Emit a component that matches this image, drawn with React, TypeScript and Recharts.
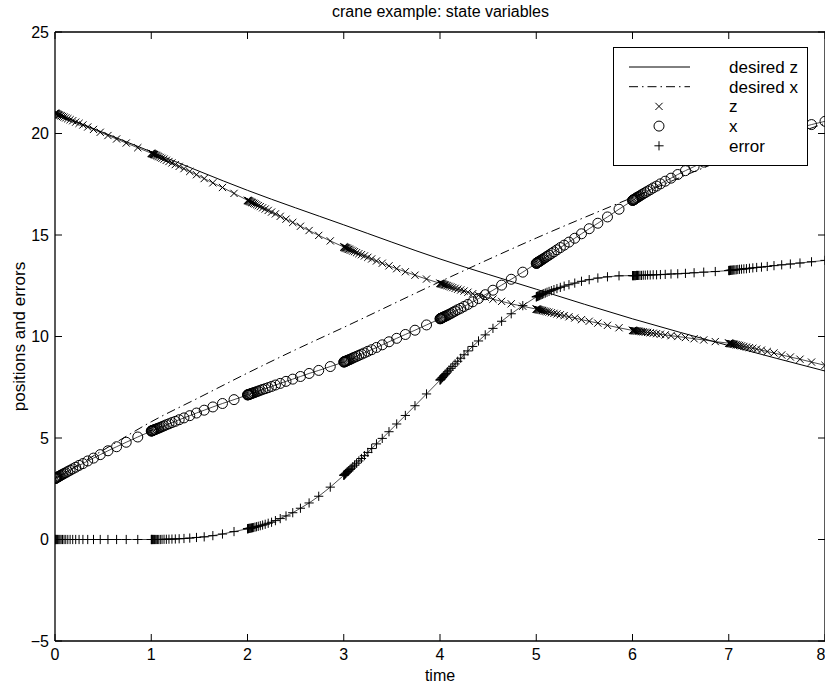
import React from "react";
import { LineChart, Line, XAxis, YAxis, Label, Legend } from "recharts";

// solver output times: the steps crowd together right after each whole second
const TIME = [
  0, 0.003, 0.007, 0.012, 0.018, 0.025, 0.033, 0.042, 0.052, 0.064, 0.078, 0.094, 0.112, 0.133, 0.157, 0.184, 0.215, 0.25, 0.29, 0.34, 0.4, 0.47, 0.55, 0.64, 0.74, 0.86,
  1, 1.003, 1.007, 1.012, 1.018, 1.025, 1.033, 1.042, 1.052, 1.064, 1.078, 1.094, 1.112, 1.133, 1.157, 1.184, 1.215, 1.25, 1.29, 1.34, 1.4, 1.47, 1.55, 1.64, 1.74, 1.86,
  2, 2.003, 2.007, 2.012, 2.018, 2.025, 2.033, 2.042, 2.052, 2.064, 2.078, 2.094, 2.112, 2.133, 2.157, 2.184, 2.215, 2.25, 2.29, 2.34, 2.4, 2.47, 2.55, 2.64, 2.74, 2.86,
  3, 3.003, 3.007, 3.012, 3.018, 3.025, 3.033, 3.042, 3.052, 3.064, 3.078, 3.094, 3.112, 3.133, 3.157, 3.184, 3.215, 3.25, 3.29, 3.34, 3.4, 3.47, 3.55, 3.64, 3.74, 3.86,
  4, 4.003, 4.007, 4.012, 4.018, 4.025, 4.033, 4.042, 4.052, 4.064, 4.078, 4.094, 4.112, 4.133, 4.157, 4.184, 4.215, 4.25, 4.29, 4.34, 4.4, 4.47, 4.55, 4.64, 4.74, 4.86,
  5, 5.003, 5.007, 5.012, 5.018, 5.025, 5.033, 5.042, 5.052, 5.064, 5.078, 5.094, 5.112, 5.133, 5.157, 5.184, 5.215, 5.25, 5.29, 5.34, 5.4, 5.47, 5.55, 5.64, 5.74, 5.86,
  6, 6.003, 6.007, 6.012, 6.018, 6.025, 6.033, 6.042, 6.052, 6.064, 6.078, 6.094, 6.112, 6.133, 6.157, 6.184, 6.215, 6.25, 6.29, 6.34, 6.4, 6.47, 6.55, 6.64, 6.74, 6.86,
  7, 7.003, 7.007, 7.012, 7.018, 7.025, 7.033, 7.042, 7.052, 7.064, 7.078, 7.094, 7.112, 7.133, 7.157, 7.184, 7.215, 7.25, 7.29, 7.34, 7.4, 7.47, 7.55, 7.64, 7.74, 7.86,
  8,
];

const Z_POS = [
  21.0, 20.99, 20.99, 20.98, 20.96, 20.95, 20.93, 20.91, 20.89, 20.87, 20.84, 20.81, 20.77, 20.73, 20.68, 20.63, 20.56, 20.5, 20.42, 20.32, 20.2, 20.06, 19.9, 19.73, 19.53, 19.3,
  19.03, 19.02, 19.01, 19.0, 18.99, 18.97, 18.96, 18.94, 18.92, 18.89, 18.86, 18.82, 18.78, 18.74, 18.68, 18.62, 18.55, 18.47, 18.38, 18.27, 18.13, 17.97, 17.78, 17.57, 17.34, 17.05,
  16.71, 16.7, 16.69, 16.68, 16.67, 16.65, 16.63, 16.61, 16.59, 16.56, 16.53, 16.49, 16.45, 16.4, 16.34, 16.28, 16.21, 16.13, 16.04, 15.92, 15.78, 15.62, 15.43, 15.22, 14.98, 14.71,
  14.41, 14.4, 14.4, 14.38, 14.37, 14.36, 14.34, 14.32, 14.3, 14.28, 14.25, 14.21, 14.18, 14.13, 14.08, 14.03, 13.97, 13.9, 13.82, 13.72, 13.61, 13.48, 13.34, 13.19, 13.02, 12.83,
  12.62, 12.62, 12.61, 12.6, 12.59, 12.58, 12.57, 12.55, 12.54, 12.52, 12.5, 12.47, 12.44, 12.41, 12.37, 12.33, 12.29, 12.24, 12.18, 12.11, 12.03, 11.94, 11.84, 11.73, 11.61, 11.49,
  11.35, 11.35, 11.34, 11.34, 11.33, 11.32, 11.31, 11.3, 11.29, 11.28, 11.26, 11.24, 11.22, 11.2, 11.17, 11.14, 11.11, 11.07, 11.03, 10.97, 10.91, 10.83, 10.75, 10.66, 10.55, 10.43,
  10.3, 10.3, 10.3, 10.29, 10.29, 10.28, 10.28, 10.27, 10.27, 10.26, 10.25, 10.24, 10.23, 10.21, 10.2, 10.18, 10.16, 10.14, 10.11, 10.08, 10.04, 10.0, 9.95, 9.89, 9.83, 9.75,
  9.67, 9.67, 9.66, 9.66, 9.65, 9.65, 9.64, 9.63, 9.62, 9.61, 9.59, 9.58, 9.56, 9.54, 9.51, 9.48, 9.45, 9.42, 9.38, 9.33, 9.26, 9.19, 9.09, 8.99, 8.88, 8.74,
  8.58,
];

const X_POS = [
  3.0, 3.01, 3.02, 3.03, 3.05, 3.07, 3.09, 3.11, 3.14, 3.17, 3.21, 3.25, 3.29, 3.35, 3.41, 3.48, 3.56, 3.65, 3.74, 3.87, 4.01, 4.18, 4.37, 4.57, 4.79, 5.05,
  5.34, 5.35, 5.35, 5.36, 5.38, 5.39, 5.41, 5.42, 5.44, 5.47, 5.49, 5.52, 5.56, 5.6, 5.65, 5.7, 5.76, 5.82, 5.9, 5.99, 6.1, 6.23, 6.37, 6.53, 6.7, 6.89,
  7.12, 7.13, 7.13, 7.14, 7.15, 7.16, 7.18, 7.19, 7.21, 7.23, 7.25, 7.28, 7.31, 7.35, 7.39, 7.43, 7.48, 7.54, 7.61, 7.69, 7.79, 7.9, 8.03, 8.18, 8.33, 8.52,
  8.74, 8.75, 8.75, 8.77, 8.78, 8.79, 8.81, 8.83, 8.85, 8.87, 8.9, 8.94, 8.98, 9.02, 9.07, 9.13, 9.19, 9.27, 9.35, 9.46, 9.59, 9.74, 9.91, 10.1, 10.31, 10.57,
  10.87, 10.88, 10.89, 10.9, 10.91, 10.93, 10.95, 10.97, 10.99, 11.02, 11.05, 11.09, 11.13, 11.19, 11.25, 11.32, 11.39, 11.48, 11.58, 11.71, 11.87, 12.06, 12.28, 12.53, 12.82, 13.17,
  13.6, 13.61, 13.62, 13.64, 13.66, 13.68, 13.7, 13.73, 13.76, 13.8, 13.84, 13.89, 13.95, 14.01, 14.09, 14.17, 14.27, 14.38, 14.5, 14.65, 14.84, 15.06, 15.31, 15.58, 15.89, 16.27,
  16.7, 16.71, 16.72, 16.74, 16.75, 16.77, 16.8, 16.83, 16.86, 16.89, 16.93, 16.98, 17.03, 17.09, 17.16, 17.23, 17.32, 17.41, 17.52, 17.65, 17.8, 17.98, 18.17, 18.37, 18.59, 18.84,
  19.1, 19.11, 19.11, 19.12, 19.13, 19.15, 19.16, 19.18, 19.2, 19.22, 19.25, 19.28, 19.31, 19.35, 19.39, 19.44, 19.49, 19.55, 19.62, 19.7, 19.8, 19.91, 20.02, 20.15, 20.29, 20.44,
  20.6,
];

const ERROR = [
  0, 0, 0, 0, 0, 0, 0, 0, 0, 0, 0, 0, 0, 0, 0, 0, 0, 0, 0, 0, 0, 0, 0, 0, 0, 0,
  0, 0, 0, 0, 0, 0, 0, 0, 0, 0, 0, 0, 0.005, 0.01, 0.01, 0.015, 0.02, 0.025, 0.035, 0.05, 0.07, 0.1, 0.13, 0.19, 0.27, 0.39,
  0.53, 0.53, 0.54, 0.54, 0.55, 0.55, 0.56, 0.57, 0.58, 0.59, 0.61, 0.63, 0.65, 0.68, 0.71, 0.75, 0.8, 0.85, 0.93, 1.03, 1.16, 1.32, 1.54, 1.8, 2.13, 2.58,
  3.16, 3.17, 3.19, 3.21, 3.24, 3.27, 3.31, 3.35, 3.39, 3.45, 3.51, 3.58, 3.66, 3.76, 3.87, 3.99, 4.13, 4.29, 4.48, 4.71, 4.98, 5.31, 5.69, 6.11, 6.59, 7.17,
  7.85, 7.87, 7.89, 7.91, 7.95, 7.98, 8.02, 8.07, 8.12, 8.18, 8.26, 8.34, 8.43, 8.53, 8.65, 8.78, 8.93, 9.1, 9.29, 9.51, 9.78, 10.08, 10.4, 10.75, 11.12, 11.52,
  11.95, 11.96, 11.97, 11.98, 11.99, 12.0, 12.02, 12.04, 12.06, 12.08, 12.11, 12.14, 12.18, 12.22, 12.26, 12.31, 12.36, 12.42, 12.48, 12.55, 12.63, 12.72, 12.8, 12.88, 12.94, 12.99,
  13.0, 13.0, 13.0, 13.0, 13.0, 13.0, 13.0, 13.01, 13.01, 13.01, 13.01, 13.01, 13.02, 13.02, 13.03, 13.03, 13.04, 13.04, 13.05, 13.06, 13.08, 13.09, 13.11, 13.14, 13.17, 13.2,
  13.25, 13.25, 13.25, 13.26, 13.26, 13.26, 13.27, 13.27, 13.28, 13.28, 13.29, 13.3, 13.31, 13.32, 13.33, 13.34, 13.36, 13.38, 13.4, 13.42, 13.45, 13.49, 13.53, 13.57, 13.62, 13.68,
  13.75,
];

const DESIRED_Z_TIME = [0, 1, 2, 3, 4, 5, 6, 7, 8];
const DESIRED_Z = [21.0, 19.1, 17.2, 15.5, 13.82, 12.33, 10.87, 9.55, 8.3];

const DESIRED_X_TIME = [0, 0.5, 1, 1.5, 2, 2.5, 3, 4, 5, 6, 7, 8];
const DESIRED_X = [3.0, 4.4, 5.8, 7.0, 8.2, 9.35, 10.45, 12.7, 14.85, 16.85, 18.8, 20.5];

const X_TICKS = [0, 1, 2, 3, 4, 5, 6, 7, 8];
const Y_TICKS = [-5, 0, 5, 10, 15, 20, 25];

const LEGEND_ROWS = [
  { label: "desired z", kind: "solid" },
  { label: "desired x", kind: "dashdot" },
  { label: "z", kind: "cross" },
  { label: "x", kind: "circle" },
  { label: "error", kind: "plus" },
];

const FONT = "'Liberation Sans', Arial, Helvetica, sans-serif";
const DASHDOT = "9 4 1.5 4";
const AXIS_LINE = { stroke: "#000", strokeWidth: 1.3 };

const measured = TIME.map((t, i) => ({ t, z: Z_POS[i], x: X_POS[i], err: ERROR[i] }));
const desiredZ = DESIRED_Z_TIME.map((t, i) => ({ t, v: DESIRED_Z[i] }));
const desiredX = DESIRED_X_TIME.map((t, i) => ({ t, v: DESIRED_X[i] }));

const minus = (v: number) => String(v).replace("-", "\u2212");
const noLabel = () => <g />;

function glyph(kind: string, cx: number, cy: number, key?: React.Key) {
  if (kind === "cross") {
    const s = 3.6;
    return (
      <g key={key} stroke="#000" strokeWidth={1}>
        <line x1={cx - s} y1={cy - s} x2={cx + s} y2={cy + s} />
        <line x1={cx - s} y1={cy + s} x2={cx + s} y2={cy - s} />
      </g>
    );
  }
  if (kind === "plus") {
    const s = 4.6;
    return (
      <g key={key} stroke="#000" strokeWidth={1}>
        <line x1={cx - s} y1={cy} x2={cx + s} y2={cy} />
        <line x1={cx} y1={cy - s} x2={cx} y2={cy + s} />
      </g>
    );
  }
  return <circle key={key} cx={cx} cy={cy} r={5} fill="none" stroke="#000" strokeWidth={1} />;
}

const markerDot = (kind: string) => (props: any) => {
  const { cx, cy, index } = props;
  if (cx == null || cy == null) return <g key={index} />;
  return glyph(kind, cx, cy, index);
};

function LegendBox() {
  return (
    <svg width={195} height={119} style={{ display: "block" }}>
      <rect x={0.5} y={0.5} width={194} height={118} fill="#fff" stroke="#000" strokeWidth={1} />
      {LEGEND_ROWS.map((row, i) => {
        const y = 20 + i * 19.7;
        let sample;
        if (row.kind === "solid") sample = <line x1={16} x2={77} y1={y} y2={y} stroke="#000" strokeWidth={1} />;
        else if (row.kind === "dashdot")
          sample = <line x1={16} x2={77} y1={y} y2={y} stroke="#000" strokeWidth={1} strokeDasharray={DASHDOT} />;
        else sample = glyph(row.kind, 46, y);
        return (
          <g key={row.label}>
            {sample}
            <text x={116} y={y} dy="0.35em" fontSize={17} fontFamily={FONT} fill="#000">
              {row.label}
            </text>
          </g>
        );
      })}
    </svg>
  );
}

export default function App() {
  return (
    <div style={{ position: "absolute", left: 0, top: 0, width: 825, height: 687, background: "#fff", fontFamily: FONT }}>
      <div
        style={{
          position: "absolute",
          left: 55,
          width: 771,
          top: 2,
          textAlign: "center",
          fontSize: 16,
          color: "#000",
          lineHeight: "20px",
        }}
      >
        crane example: state variables
      </div>
      <LineChart width={825} height={687} data={measured} margin={{ top: 32, right: 0, bottom: 0, left: 0 }}>
        {/* labelled axes */}
        <XAxis
          xAxisId="b"
          type="number"
          dataKey="t"
          domain={[0, 8]}
          ticks={X_TICKS}
          height={46}
          tickSize={0}
          tickMargin={8}
          tickLine={false}
          allowDataOverflow
          axisLine={AXIS_LINE}
          tick={{ fill: "#000", fontSize: 16, fontFamily: FONT }}
        >
          <Label value="time" position="center" dy={11} fill="#000" fontSize={16} fontFamily={FONT} />
        </XAxis>
        <YAxis
          yAxisId="l"
          type="number"
          domain={[-5, 25]}
          ticks={Y_TICKS}
          width={55}
          tickSize={0}
          tickMargin={6}
          tickLine={false}
          tickFormatter={minus}
          allowDataOverflow
          axisLine={AXIS_LINE}
          tick={{ fill: "#000", fontSize: 16, fontFamily: FONT }}
        >
          <Label value="positions and errors" position="center" angle={-90} dx={-9} fill="#000" fontSize={17} fontFamily={FONT} />
        </YAxis>

        {/* inward tick marks on all four sides */}
        <XAxis xAxisId="bm" dataKey="t" type="number" mirror allowDataOverflow domain={[0, 8]} ticks={X_TICKS} tickSize={7} tick={noLabel} axisLine={false} tickLine={{ stroke: "#000" }} />
        <XAxis xAxisId="tm" dataKey="t" orientation="top" type="number" mirror allowDataOverflow domain={[0, 8]} ticks={X_TICKS} tickSize={7} tick={noLabel} axisLine={AXIS_LINE} tickLine={{ stroke: "#000" }} />
        <YAxis yAxisId="lm" type="number" mirror allowDataOverflow domain={[-5, 25]} ticks={Y_TICKS} tickSize={7} tick={noLabel} axisLine={false} tickLine={{ stroke: "#000" }} />
        <YAxis yAxisId="rm" orientation="right" type="number" mirror allowDataOverflow domain={[-5, 25]} ticks={Y_TICKS} tickSize={7} tick={noLabel} axisLine={AXIS_LINE} tickLine={{ stroke: "#000" }} />

        <Legend
          layout="vertical"
          align="center"
          verticalAlign="middle"
          wrapperStyle={{ left: 613, top: 47, width: 195, height: 119 }}
          content={() => <LegendBox />}
        />
        <Line
          xAxisId="b"
          yAxisId="l"
          data={desiredZ}
          dataKey="v"
          name="desired z"
          type="monotone"
          stroke="#000"
          strokeWidth={1}
          dot={false}
          isAnimationActive={false}
        />
        <Line
          xAxisId="b"
          yAxisId="l"
          data={desiredX}
          dataKey="v"
          name="desired x"
          type="monotone"
          stroke="#000"
          strokeWidth={1}
          strokeDasharray={DASHDOT}
          dot={false}
          isAnimationActive={false}
        />
        <Line
          xAxisId="b"
          yAxisId="l"
          dataKey="z"
          name="z"
          type="linear"
          stroke="#000"
          strokeWidth={0.7}
          dot={markerDot("cross")}
          isAnimationActive={false}
        />
        <Line
          xAxisId="b"
          yAxisId="l"
          dataKey="x"
          name="x"
          type="linear"
          stroke="#000"
          strokeWidth={0.7}
          dot={markerDot("circle")}
          isAnimationActive={false}
        />
        <Line
          xAxisId="b"
          yAxisId="l"
          dataKey="err"
          name="error"
          type="linear"
          stroke="#000"
          strokeWidth={0.7}
          dot={markerDot("plus")}
          isAnimationActive={false}
        />
      </LineChart>
    </div>
  );
}
